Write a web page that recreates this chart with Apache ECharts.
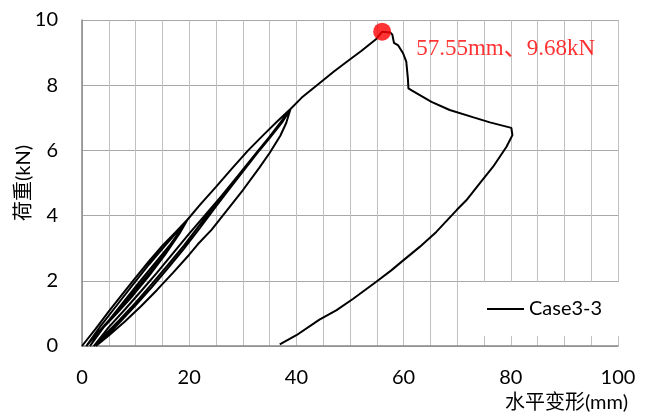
<!DOCTYPE html>
<html>
<head>
<meta charset="utf-8">
<script src="https://cdn.jsdelivr.net/npm/echarts@6/dist/echarts.min.js"></script>
<style>
html,body{margin:0;padding:0;background:#fff;}
#chart{width:653px;height:412px;}
</style>
</head>
<body>
<div id="chart"></div>
<script>
// Horizontal displacement (mm) along the test path
const dispMm = [
  0, 2.5, 5, 7.5, 10, 12.5, 15, 17.5, 19.7,
  18.5, 16, 13, 10, 7, 4, 0.8,
  3.5, 6.5, 9.5, 12.5, 15.5, 18, 19.7,
  18.2, 15.5, 12.5, 9.5, 6.5, 3.5, 1.5,
  4.5, 7.5, 10.5, 13.5, 16.5, 18.5, 19.7, 22, 25, 28, 31, 34, 36.5, 38.9,
  37.3, 35, 33.2, 30, 27.5, 25, 22, 19, 16, 13, 10, 7, 4.5, 2.6,
  5, 8, 11, 14, 17, 20, 21.6, 24.2, 27, 30.1, 33, 35, 37, 38.1, 38.9,
  37, 34, 31, 28, 25, 22, 19, 16, 13, 10, 7, 4, 2.2,
  5, 8, 11, 14, 17, 20, 23, 26, 29, 32, 35, 37, 38.9, 41, 44.3, 47, 49.9, 52.1, 54.9, 56,
  57.5, 57.9, 58.2, 59, 59.9, 60.5, 60.8, 60.9, 61.5, 65.2, 68.6, 72.9, 76.1, 80.1, 80.3,
  79.2, 76.7, 74.2, 71.7, 69.9, 66.1, 63, 59.6, 57.7, 54.9, 50.6, 47.5, 44.3, 40, 36.9
];
// Load (kN) along the same path
const loadKn = [
  0, 0.52, 1.06, 1.58, 2.1, 2.6, 3.08, 3.5, 3.88,
  3.58, 2.98, 2.32, 1.72, 1.15, 0.6, 0,
  0.62, 1.25, 1.88, 2.5, 3.08, 3.55, 3.88,
  3.45, 2.8, 2.15, 1.55, 1.0, 0.48, 0,
  0.68, 1.3, 1.92, 2.52, 3.12, 3.58, 3.88, 4.33, 4.88, 5.45, 6.0, 6.5, 6.9, 7.27,
  6.85, 6.38, 6.02, 5.35, 4.82, 4.28, 3.62, 2.98, 2.38, 1.8, 1.25, 0.72, 0.3, 0,
  0.32, 0.75, 1.22, 1.72, 2.25, 2.8, 3.12, 3.57, 4.15, 4.8, 5.45, 5.92, 6.45, 6.84, 7.27,
  6.8, 6.22, 5.6, 4.98, 4.35, 3.72, 3.08, 2.48, 1.9, 1.33, 0.8, 0.3, 0,
  0.58, 1.12, 1.68, 2.25, 2.85, 3.45, 4.02, 4.6, 5.2, 5.82, 6.42, 6.85, 7.27, 7.62, 8.06, 8.42, 8.78, 9.05, 9.42, 9.64,
  9.62, 9.55, 9.3, 9.22, 8.98, 8.72, 8.2, 7.9, 7.84, 7.49, 7.24, 7.02, 6.86, 6.69, 6.47,
  6.11, 5.5, 4.99, 4.47, 4.17, 3.5, 3.04, 2.58, 2.32, 1.97, 1.45, 1.1, 0.81, 0.33, 0.05
];
const peakPoint = [56.0, 9.64];
const peakText = '57.55mm、9.68kN';
const seriesName = 'Case3-3';
const xName = '水平变形(mm)';
const yName = '荷重(kN)';
const xTicks = [0, 20, 40, 60, 80, 100];
const yTicks = [0, 2, 4, 6, 8, 10];

const curve = dispMm.map((x, i) => [x, loadKn[i]]);
const latin = 'Lato, "Noto Sans CJK JP", sans-serif';

const chart = echarts.init(document.getElementById('chart'), null, {renderer: 'canvas'});
chart.setOption({
  animation: false,
  backgroundColor: '#fff',
  grid: {left: 82, right: 35, top: 20, bottom: 66, containLabel: false, outerBoundsMode: 'none'},
  xAxis: {
    type: 'value',
    min: xTicks[0], max: xTicks[xTicks.length - 1], interval: xTicks[1] - xTicks[0],
    axisLine: {show: true, lineStyle: {color: '#898989', width: 1.5}},
    axisTick: {show: false},
    minorTick: {show: false, splitNumber: 4},
    splitLine: {show: true, lineStyle: {color: '#c0c0c0', width: 1}},
    minorSplitLine: {show: true, lineStyle: {color: '#c0c0c0', width: 1}},
    axisLabel: {margin: 22, color: '#000', fontSize: 20, fontFamily: latin}
  },
  yAxis: {
    type: 'value',
    min: yTicks[0], max: yTicks[yTicks.length - 1], interval: yTicks[1] - yTicks[0],
    name: yName, nameLocation: 'middle', nameGap: 48, nameRotate: 90,
    nameMoveOverlap: false,
    nameTextStyle: {color: '#000', fontSize: 20, fontFamily: latin},
    axisLine: {show: true, lineStyle: {color: '#898989', width: 1.5}},
    axisTick: {show: false},
    splitLine: {show: true, lineStyle: {color: '#a8a8a8', width: 1}},
    axisLabel: {margin: 24, color: '#000', fontSize: 20, fontFamily: latin}
  },
  legend: {
    data: [seriesName],
    left: 461, top: 282,
    backgroundColor: '#fff',
    padding: [17, 18, 17, 25],
    itemWidth: 37, itemHeight: 2,
    textStyle: {color: '#000', fontSize: 20, fontFamily: latin}
  },
  graphic: [{
    type: 'text', right: 25, top: 393, silent: true,
    style: {text: xName, fill: '#000', font: '20px Lato, "Noto Sans CJK SC", sans-serif'}
  }],
  series: [{
    name: seriesName,
    type: 'line',
    data: curve,
    symbol: 'none',
    showSymbol: false,
    smooth: false,
    lineStyle: {color: '#000', width: 2},
    itemStyle: {color: '#000'},
    z: 2
  }, {
    name: 'peak',
    type: 'scatter',
    data: [peakPoint],
    symbol: 'circle',
    symbolSize: 18,
    itemStyle: {color: '#ff0000'},
    z: 5,
    label: {
      show: true,
      formatter: peakText,
      position: 'right',
      distance: 25,
      offset: [0, 17],
      color: '#ff0000',
      fontSize: 23,
      fontFamily: '"Liberation Serif", "Noto Sans CJK SC", serif'
    }
  }]
});
</script>
</body>
</html>
